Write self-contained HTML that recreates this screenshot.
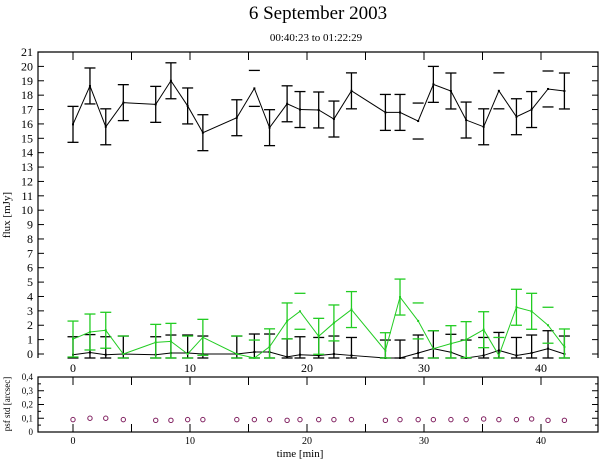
<!DOCTYPE html>
<html><head><meta charset="utf-8"><style>
html,body{margin:0;padding:0;background:#fff;}
svg{display:block;font-family:"Liberation Serif",serif;}
</style></head><body>
<svg id="chart" width="600" height="460" viewBox="0 0 600 460" xmlns="http://www.w3.org/2000/svg">
<text x="318" y="19" font-size="19" text-anchor="middle">6 September 2003</text>
<text x="316" y="41" font-size="11" text-anchor="middle">00:40:23 to 01:22:29</text>
<text transform="translate(10,215) rotate(-90)" font-size="11" text-anchor="middle">flux [mJy]</text>
<text transform="translate(10,404) rotate(-90)" font-size="9" text-anchor="middle">psf std [arcsec]</text>
<text x="300" y="457" font-size="11" text-anchor="middle">time [min]</text>
<g id="g"></g>
</svg>
<script>
const times = [0,1.45,2.8,4.3,7.07,8.37,9.8,11.1,14.0,15.5,16.8,18.3,19.4,21.0,22.3,23.8,26.7,27.95,29.5,30.8,32.3,33.6,35.1,36.4,37.9,39.2,40.6,42.0];
const fluxA = [15.97,18.64,15.8,17.48,17.36,19.0,17.25,15.39,16.43,18.47,15.74,17.4,17.0,16.97,16.34,18.3,16.8,16.8,16.2,18.75,18.29,16.27,15.8,18.3,16.5,17.0,18.43,18.29];
const barA = [1,1,1,1,1,1,1,1,1,0,1,1,1,1,1,1,1,1,0,1,1,1,1,0,1,1,0,1];
const fluxB = [-0.05,0.1,-0.05,0,-0.05,0.07,0.07,0,0,0.14,0.14,-0.2,-0.05,-0.1,0,-0.1,-0.28,-0.28,0.07,0.37,0.12,-0.28,-0.1,0.25,-0.1,0.07,0.37,0];
const fluxC = [1.04,1.53,1.65,0,0.81,0.88,0,1.16,0,-0.28,0.5,2.3,2.97,1.23,2.16,3.09,0.23,3.96,2.3,0.37,0.72,1.0,1.69,-0.1,3.25,2.97,2.0,0.49];
const barC = [1,1,1,0,1,1,0,1,0,0,1,1,0,1,1,1,1,1,0,0,1,1,1,0,1,1,0,1];
const psfStd = [0.09,0.1,0.1,0.09,0.085,0.085,0.09,0.09,0.09,0.09,0.09,0.085,0.09,0.09,0.09,0.09,0.085,0.09,0.09,0.09,0.09,0.09,0.095,0.09,0.09,0.095,0.085,0.085];
const errFlux = 1.25;
const xTicks = [0,10,20,30,40];
const yTicks = [0,1,2,3,4,5,6,7,8,9,10,11,12,13,14,15,16,17,18,19,20,21];
const psfTicks = ["0","0,1","0,2","0,3","0,4"];

const NS="http://www.w3.org/2000/svg", g=document.getElementById('g');
const L=38,R=598,T=52,Y0=354,BT=377,BB=432,CLIP=358;
const X=t=>73+t*11.7;
const Y=v=>Math.min(CLIP,Y0-v*14.38);
const YP=v=>BB-v*(BB-BT)/0.4;
function el(tag,a,p){const e=document.createElementNS(NS,tag);for(const k in a)e.setAttribute(k,a[k]);(p||g).appendChild(e);return e;}
function ln(x1,y1,x2,y2,c,w){return el('line',{x1,y1,x2,y2,stroke:c||'#000','stroke-width':w||1});}

let f=el('path',{d:`M${L},${CLIP}V${T}H${R}V${CLIP}`,fill:'none',stroke:'#000','stroke-width':1.2});


let f2=el('rect',{x:L,y:BT,width:R-L,height:BB-BT,fill:'none',stroke:'#000','stroke-width':1.2});



yTicks.forEach(v=>{
  const y=Y0-v*14.38;
  ln(L,y,L+6,y);ln(R-6,y,R,y);
  const t=el('text',{x:33,y:y+4,'font-size':12,'text-anchor':'end'});t.textContent=v;
  
  
});
for(let m=0;m<=40;m+=5){ln(X(m),T,X(m),T+8);ln(X(m),BT,X(m),BT+8);ln(X(m),BB,X(m),BB-8);}
xTicks.forEach(v=>{
  const t=el('text',{x:X(v),y:372,'font-size':12,'text-anchor':'middle'});t.textContent=v;
  
  
  const t2=el('text',{x:X(v),y:444,'font-size':10,'text-anchor':'middle'});t2.textContent=v;
  
  
});
psfTicks.forEach((s,i)=>{
  const y=YP(i*0.1);
  ln(L,y,L+6,y);ln(R-6,y,R,y);
  if(i<4){ln(L,y-6.9,L+3,y-6.9);ln(R-3,y-6.9,R,y-6.9);}
  const t=el('text',{x:33,y:y+3,'font-size':9,'text-anchor':'end'});t.textContent=s;
  
  
});

function series(vals,bars,color,name){
  const pts=times.map((t,i)=>X(t)+','+Y(vals[i])).join(' ');
  const p=el('polyline',{points:pts,fill:'none',stroke:color,'stroke-width':1});
  
  
  times.forEach((t,i)=>{
    const x=X(t),hi=Y(vals[i]+errFlux),lo=Y(vals[i]-errFlux);
    if(!bars||bars[i]){ln(x,hi,x,lo,color,1.3);}
    ln(x-5.5,hi,x+5.5,hi,color,1.3);ln(x-5.5,lo,x+5.5,lo,color,1.3);
    const d=el('rect',{x:x-1,y:Y(vals[i])-1,width:2,height:2,fill:color});
    
    
  });
}
series(fluxA,barA,'#000','source-flux');
series(fluxB,null,'#000','background-flux');
series(fluxC,barC,'#22cc22','reference-flux');

times.forEach((t,i)=>{
  const c=el('circle',{cx:X(t),cy:YP(psfStd[i]),r:2.2,fill:'none',stroke:'#802060','stroke-width':1});
  
  
});
</script>
</body></html>
